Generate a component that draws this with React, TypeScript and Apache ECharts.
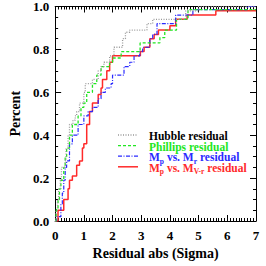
import React, { useEffect, useRef } from "react";
import * as echarts from "echarts";

// Cumulative distributions: [residual breakpoint (sigma), cumulative fraction after it]
const hubbleX = [0, 0.03, 0.08, 0.12, 0.18, 0.22, 0.35, 0.38, 0.45, 0.5, 0.62, 0.7, 0.75, 0.85, 1.0, 1.05, 1.3, 1.5, 1.6, 1.7, 1.9, 2.05, 2.35, 2.45, 2.6, 3.2, 3.4, 4.55, 5.0, 7];
const hubbleY = [0, 0.05, 0.1, 0.15, 0.19, 0.25, 0.28, 0.34, 0.4, 0.45, 0.47, 0.49, 0.51, 0.55, 0.6, 0.64, 0.66, 0.7, 0.72, 0.74, 0.77, 0.81, 0.85, 0.88, 0.89, 0.92, 0.94, 0.98, 1.0, 1.0];

const phillipsX = [0, 0.03, 0.05, 0.1, 0.15, 0.2, 0.3, 0.35, 0.4, 0.5, 0.6, 0.8, 0.9, 1.0, 1.1, 1.3, 1.45, 1.6, 1.9, 2.0, 2.3, 2.96, 3.65, 3.82, 4.23, 4.63, 7];
const phillipsY = [0, 0.02, 0.06, 0.1, 0.15, 0.19, 0.25, 0.3, 0.34, 0.4, 0.45, 0.49, 0.53, 0.55, 0.6, 0.64, 0.68, 0.72, 0.74, 0.76, 0.79, 0.83, 0.855, 0.89, 0.94, 0.985, 0.985];

const mrX = [0, 0.05, 0.2, 0.25, 0.3, 0.35, 0.4, 0.5, 0.6, 0.8, 1.0, 1.15, 1.3, 1.5, 1.6, 1.75, 1.95, 2.0, 2.4, 2.6, 2.75, 2.95, 3.05, 3.3, 3.4, 3.55, 4.2, 4.8, 6.7, 7];
const mrY = [0, 0.02, 0.08, 0.13, 0.19, 0.25, 0.28, 0.36, 0.4, 0.45, 0.49, 0.51, 0.53, 0.57, 0.6, 0.62, 0.64, 0.68, 0.72, 0.74, 0.77, 0.79, 0.81, 0.85, 0.87, 0.92, 0.96, 0.985, 1.0, 1.0];

const mvrX = [0, 0.1, 0.3, 0.45, 0.5, 0.6, 0.75, 0.85, 0.95, 1.0, 1.1, 1.2, 1.3, 1.5, 1.6, 1.65, 1.8, 1.9, 2.0, 2.97, 3.1, 3.3, 3.45, 3.6, 4.0, 4.2, 4.6, 5.6, 7];
const mvrY = [0, 0.05, 0.1, 0.15, 0.19, 0.21, 0.26, 0.28, 0.34, 0.36, 0.45, 0.51, 0.55, 0.59, 0.62, 0.66, 0.7, 0.74, 0.77, 0.79, 0.81, 0.85, 0.87, 0.89, 0.91, 0.94, 0.96, 0.98, 0.98];

const xTicks = [0, 1, 2, 3, 4, 5, 6, 7];
const yTicks = [0.0, 0.2, 0.4, 0.6, 0.8, 1.0];

const seriesNames = ["Hubble residual", "Phillips residual", "Mp vs. Mr residual", "Mp vs. MV-r residual"];
const seriesColors = ["#999999", "#22e622", "#2a2aff", "#ff2a2a"];

const zip = (xs: number[], ys: number[]) => xs.map((x, i) => [x, ys[i]]);

export default function App() {
  const ref = useRef<HTMLDivElement>(null);
  useEffect(() => {
    if (!ref.current) return;
    const chart = echarts.init(ref.current, null, { renderer: "svg" });
    const font = "'Liberation Serif', 'Times New Roman', serif";
    const axisCommon = {
      min: 0,
      axisLine: { show: true, onZero: false, lineStyle: { color: "#000", width: 1 } },
      axisTick: { show: true, inside: true, length: 6, lineStyle: { color: "#000" } },
      minorTick: { show: true, length: 3, lineStyle: { color: "#000" } },
      splitLine: { show: false },
    };
    const labelStyle = { color: "#000", fontFamily: font, fontWeight: "bold" as const, fontSize: 13 };
    const lineStyles = [
      { type: [1, 1.5], width: 1.3 },
      { type: [3, 2], width: 1.3 },
      { type: [4, 1.5, 1, 1.5], width: 1.2 },
      { type: "solid", width: 1.5 },
    ];
    const data = [zip(hubbleX, hubbleY), zip(phillipsX, phillipsY), zip(mrX, mrY), zip(mvrX, mvrY)];
    const series = data.map((d, i) => ({
      name: seriesNames[i],
      type: "line",
      step: "end",
      data: d,
      showSymbol: false,
      symbol: "none",
      lineStyle: { color: seriesColors[i], ...lineStyles[i] },
      z: 10 - i,
    }));
    const legendRows = [
      { rich: "{t|Hubble residual}", color: "#000" },
      { rich: "{t|Phillips residual}", color: seriesColors[1] },
      { rich: "{t|M}{s|p}{t| vs. M}{s|r}{t| residual}", color: seriesColors[2] },
      { rich: "{t|M}{s|p}{t| vs. M}{s|V-r}{t| residual}", color: seriesColors[3] },
    ];
    const graphics: any[] = [];
    legendRows.forEach((row, i) => {
      const y = 135 + i * 10.6;
      graphics.push({
        type: "line",
        shape: { x1: 118, y1: y, x2: 138, y2: y },
        style: { stroke: seriesColors[i], lineWidth: lineStyles[i].width, lineDash: typeof lineStyles[i].type === "string" ? null : lineStyles[i].type },
        z: 20,
      });
      graphics.push({
        type: "text",
        x: 149,
        y: y + 1,
        style: {
          text: row.rich,
          fill: row.color,
          verticalAlign: "middle",
          rich: {
            t: { fontFamily: font, fontWeight: "bold", fontSize: 11.5, lineHeight: 12, verticalAlign: "top", fill: row.color },
            s: { fontFamily: font, fontWeight: "bold", fontSize: 7.5, lineHeight: 8, verticalAlign: "top", padding: [6, 0, 0, 0], fill: row.color },
          },
        },
        z: 20,
      });
    });
    chart.setOption({
      animation: false,
      backgroundColor: "#fff",
      grid: { left: 52, right: 10, top: 6, bottom: 45, containLabel: false },
      xAxis: [
        {
          ...axisCommon,
          type: "value",
          max: 7,
          interval: 1,
          position: "bottom",
          minorTick: { show: true, splitNumber: 10, length: 3, lineStyle: { color: "#000" } },
          axisLabel: { ...labelStyle, margin: 8, formatter: (v: number) => (xTicks.includes(v) ? String(v) : "") },
          name: "Residual abs (Sigma)",
          nameLocation: "middle",
          nameGap: 24,
          nameTextStyle: { color: "#000", fontFamily: font, fontWeight: "bold", fontSize: 14 },
        },
        {
          ...axisCommon,
          type: "value",
          max: 7,
          interval: 1,
          position: "top",
          minorTick: { show: true, splitNumber: 10, length: 3, lineStyle: { color: "#000" } },
          axisLabel: { show: false },
        },
      ],
      yAxis: [
        {
          ...axisCommon,
          type: "value",
          max: 1,
          interval: 0.2,
          position: "left",
          minorTick: { show: true, splitNumber: 4, length: 3, lineStyle: { color: "#000" } },
          axisLabel: { ...labelStyle, margin: 6, formatter: (v: number) => { const t = yTicks.find((k) => Math.abs(k - v) < 1e-6); return t === undefined ? "" : t.toFixed(1); } },
          name: "Percent",
          nameLocation: "middle",
          nameGap: 33,
          nameRotate: 90,
          nameTextStyle: { color: "#000", fontFamily: font, fontWeight: "bold", fontSize: 14 },
        },
        {
          ...axisCommon,
          type: "value",
          max: 1,
          interval: 0.2,
          position: "right",
          minorTick: { show: true, splitNumber: 4, length: 3, lineStyle: { color: "#000" } },
          axisLabel: { show: false },
        },
      ],
      series,
      graphic: graphics,
    });
    return () => chart.dispose();
  }, []);
  return <div ref={ref} style={{ position: "fixed", left: 0, top: 0, width: 266, height: 266 }} />;
}
